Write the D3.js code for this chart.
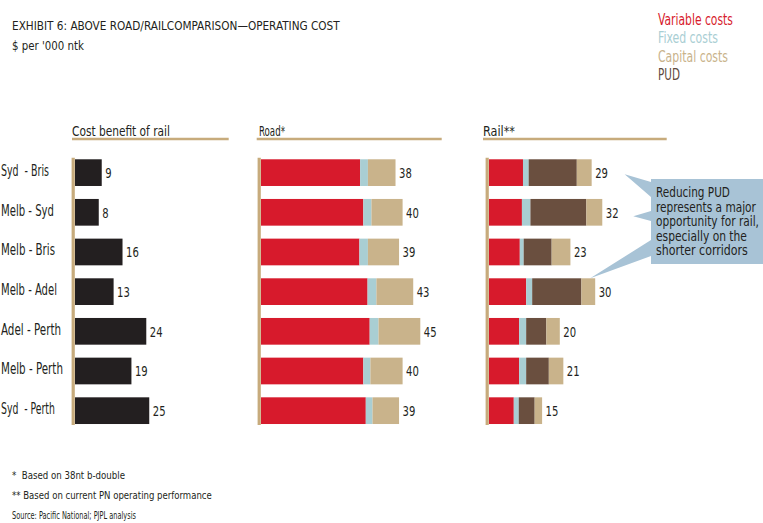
<!DOCTYPE html>
<html><head><meta charset="utf-8">
<script src="https://cdn.jsdelivr.net/npm/d3@7"></script>
<style>
html,body{margin:0;padding:0;background:#fff;}
svg{display:block;font-family:'DejaVu Sans Condensed','Liberation Sans Narrow','DejaVu Sans',sans-serif;font-stretch:condensed;}
text{white-space:pre;}
</style></head><body>
<svg id="chart" width="763" height="523"></svg>
<script>
// Corridors, top to bottom
const routes = ["Syd  - Bris", "Melb - Syd", "Melb - Bris", "Melb - Adel", "Adel - Perth", "Melb - Perth", "Syd  - Perth"];

// Cost benefit of rail ($ per '000 ntk)
const costBenefit = [9, 8, 16, 13, 24, 19, 25];

// Road operating cost components
const roadVariable = [28.0, 28.9, 27.8, 30.1, 30.7, 28.9, 29.6];
const roadFixed    = [2.2, 2.3, 2.4, 2.5, 2.5, 2.0, 1.9];
const roadCapital  = [7.8, 8.8, 8.8, 10.4, 11.8, 9.1, 7.5];

// Rail operating cost components
const railVariable = [9.6, 9.3, 8.7, 10.5, 8.5, 8.5, 7.0];
const railFixed    = [1.6, 2.4, 1.1, 1.7, 2.0, 2.0, 1.4];
const railPUD      = [13.6, 15.8, 7.9, 13.9, 5.7, 6.4, 4.5];
const railCapital  = [4.2, 4.5, 5.3, 3.9, 3.8, 4.1, 2.1];

const legendLabels = ["Variable costs", "Fixed costs", "Capital costs", "PUD"];
const panelTitles = ["Cost benefit of rail", "Road*", "Rail**"];
const footnotes = ["*  Based on 38nt b-double", "** Based on current PN operating performance", "Source: Pacific National; PJPL analysis"];
const calloutLines = ["Reducing PUD", "represents a major", "opportunity for rail,", "especially on the", "shorter corridors"];

const C = {
  variable: "#d71a2c",
  fixed: "#a9ced3",
  capital: "#c9b38b",
  pud: "#6a4f3f",
  benefit: "#231f20",
  rule: "#c7ab7c",
  ink: "#231f20",
  callout: "#a8c3d6"
};

const svg = d3.select("#chart");

// Squeeze each text horizontally to the set width (narrow display face)
function condense(sel, widthFn) {
  sel.each(function (d, i) {
    const t = d3.select(this);
    const x = +t.attr("x"), yy = +t.attr("y");
    const w = this.getComputedTextLength();
    const s = w > 0 ? widthFn(d, i) / w : 1;
    t.attr("x", 0).attr("y", 0)
      .attr("transform", `translate(${x},${yy}) scale(${s},1)`);
  });
}

// Title block
condense(svg.append("text").attr("x", 12).attr("y", 30).attr("font-size", 13).attr("fill", C.ink)
  .text("EXHIBIT 6: ABOVE ROAD/RAILCOMPARISON\u2014OPERATING COST"), () => 328);
condense(svg.append("text").attr("x", 12).attr("y", 50).attr("font-size", 13).attr("fill", C.ink)
  .text("$ per '000 ntk"), () => 72);

// Legend
const legendColors = [C.variable, C.fixed, C.capital, "#5e4a3e"];
const legendWidths = [75, 60, 70, 22];
condense(svg.append("g").selectAll("text").data(legendLabels).join("text")
  .attr("x", 658).attr("y", (d, i) => 24.5 + i * 18.6)
  .attr("font-size", 15).attr("fill", (d, i) => legendColors[i])
  .text(d => d), (d, i) => legendWidths[i]);

// Shared row scale
const y = d3.scaleBand().domain(routes).range([152.8, 430.5]).paddingInner(0.327).paddingOuter(0.1635);
const bw = y.bandwidth();

// Panel scales
const cbX = d3.scaleLinear().domain([0, 50]).range([75, 223.5]);
const roadX = d3.scaleLinear().domain([0, 50]).range([261, 438]);
const railX = d3.scaleLinear().domain([0, 50]).range([489, 666]);

// Panel headers with underline rule
const headers = [
  {title: panelTitles[0], x: 72, w: 98, x1: 72, x2: 228.7},
  {title: panelTitles[1], x: 259, w: 26, x1: 256.7, x2: 441.7},
  {title: panelTitles[2], x: 483, w: 32, x1: 483, x2: 666.7}
];
const hg = svg.append("g");
headers.forEach(h => {
  condense(hg.append("text").attr("x", h.x).attr("y", 136).attr("font-size", 14.5).attr("fill", C.ink)
    .text(h.title), () => h.w);
  hg.append("line").attr("x1", h.x1).attr("x2", h.x2).attr("y1", 139).attr("y2", 139)
    .attr("stroke", C.rule).attr("stroke-width", 2.5);
});

// Vertical baseline rule for each panel
[cbX, roadX, railX].forEach(sc => {
  svg.append("line")
    .attr("x1", sc(0) - 1.8).attr("x2", sc(0) - 1.8)
    .attr("y1", y(routes[0]) - 1.5).attr("y2", y(routes[routes.length - 1]) + bw + 1)
    .attr("stroke", C.rule).attr("stroke-width", 3.2);
});

// Row labels
const routeWidths = [48, 53, 54, 56, 60, 62, 54];
condense(svg.append("g").selectAll("text").data(routes).join("text")
  .attr("x", 1).attr("y", d => y(d) + bw / 2 + 3.5)
  .attr("font-size", 15).attr("fill", C.ink)
  .text(d => d), (d, i) => routeWidths[i]);

// Width of a value label by digit count
const valueWidth = v => String(Math.round(v)).length * 6.4;

// Cost benefit bars
const cb = svg.append("g");
cb.selectAll("rect").data(costBenefit).join("rect")
  .attr("x", cbX(0)).attr("y", (d, i) => y(routes[i]))
  .attr("width", d => cbX(d) - cbX(0)).attr("height", bw)
  .attr("fill", C.benefit);
condense(cb.selectAll("text").data(costBenefit).join("text")
  .attr("x", d => cbX(d) + 3.5).attr("y", (d, i) => y(routes[i]) + bw / 2 + 5.5)
  .attr("font-size", 14.5).attr("fill", C.ink)
  .text(d => d), valueWidth);

// Stacked bar panels
function stackedPanel(xs, keys, colors, columns) {
  const rows = routes.map((r, i) => {
    const o = {route: r};
    keys.forEach((k, j) => { o[k] = columns[j][i]; });
    return o;
  });
  const series = d3.stack().keys(keys)(rows);
  const g = svg.append("g");
  g.selectAll("g").data(series).join("g")
    .attr("fill", s => colors[s.key])
    .selectAll("rect").data(s => s).join("rect")
      .attr("x", d => xs(d[0])).attr("y", d => y(d.data.route))
      .attr("width", d => xs(d[1]) - xs(d[0])).attr("height", bw);
  const totals = rows.map(r => d3.sum(keys, k => r[k]));
  condense(g.selectAll("text").data(totals).join("text")
    .attr("x", d => xs(d) + 3.5).attr("y", (d, i) => y(routes[i]) + bw / 2 + 5.5)
    .attr("font-size", 14.5).attr("fill", C.ink)
    .text(d => Math.round(d)), valueWidth);
  return totals;
}

stackedPanel(roadX, ["variable", "fixed", "capital"],
  {variable: C.variable, fixed: C.fixed, capital: C.capital},
  [roadVariable, roadFixed, roadCapital]);

const railTotals = stackedPanel(railX, ["variable", "fixed", "pud", "capital"],
  {variable: C.variable, fixed: C.fixed, pud: C.pud, capital: C.capital},
  [railVariable, railFixed, railPUD, railCapital]);

// Callout box with pointers to the shorter corridors
const bx0 = 651, bx1 = 763, by0 = 179, by1 = 264;
const tip1 = [railX(railTotals[0]) + 33, y(routes[0]) + 15];
const tip2 = [railX(railTotals[1]) + 31, y(routes[1]) + bw / 2 + 4];
const tip3 = [railX(railTotals[3]) - 5, y(routes[3])];
const pts = [
  [bx0, by0], [bx1, by0], [bx1, by1], [bx0, by1],
  [bx0, 256], tip3, [bx0, 240],
  [bx0, 221], tip2, [bx0, 211],
  [bx0, 197], tip1, [bx0, 182]
];
svg.append("path").attr("d", d3.line()(pts) + "Z").attr("fill", C.callout);

const calloutWidths = [74, 100, 103, 91, 92];
const calloutBase = [197, 211.5, 226, 240.5, 255];
condense(svg.append("g").selectAll("text").data(calloutLines).join("text")
  .attr("x", 656).attr("y", (d, i) => calloutBase[i])
  .attr("font-size", 13.5).attr("fill", C.ink)
  .text(d => d), (d, i) => calloutWidths[i]);

// Footnotes
const footWidths = [113, 200, 124];
condense(svg.append("g").selectAll("text").data(footnotes).join("text")
  .attr("x", 12).attr("y", (d, i) => 479 + i * 20)
  .attr("font-size", 10.5).attr("fill", C.ink)
  .text(d => d), (d, i) => footWidths[i]);
</script>
</body></html>
